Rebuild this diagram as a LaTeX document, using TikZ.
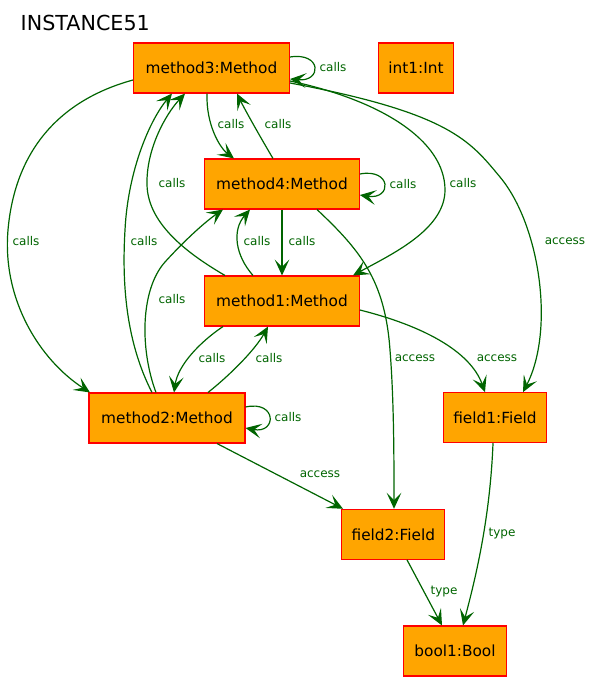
\documentclass[tikz,border=0pt]{standalone}
\usepackage{fontspec}
\setmainfont{DejaVu Sans}
\usepackage{tikz}
\usetikzlibrary{arrows.meta}
\definecolor{relgreen}{HTML}{006400}
\definecolor{objorange}{HTML}{FFA500}
\newcommand{\rellabel}[1]{\color{relgreen}{\fontsize{9}{10}\selectfont #1}}

\begin{document}
\begin{tikzpicture}[x=0.75pt,y=-0.75pt,
    obj/.style={rectangle, draw=red, fill=objorange, line width=0.8pt, inner sep=+0pt,
                minimum height=37.5pt, font=\fontsize{11.5}{13}\selectfont},
    rel/.style={draw=relgreen, line width=0.9pt, -{Stealth[length=12pt,width=11pt,inset=5.5pt]}}]
        \useasboundingbox (0,0) rectangle (599,682);

        \node[anchor=base west, font=\fontsize{15.5}{18}\selectfont] (title) at (16,30) {INSTANCE51};

        \foreach \n/\t/\x/\y/\w in {method3/Method/211.5/68/117, int1/Int/416/68/56.25,
                                     method4/Method/282/184/116, method1/Method/282/301/116,
                                     method2/Method/167/418/117, field1/Field/495/417.7/77.25,
                                     field2/Field/393.3/534.3/77.25, bool1/Bool/455/651/77.25} {
            \node[obj, minimum width=\w pt] (\n) at (\x,\y) {\n:\t};
        }

        \draw[rel] (method3.east |- 0,57) .. controls (322,52) and (322,82) .. (method3.east |- 0,79);
        \draw[rel] (method3.south -| 207,0) .. controls (206,125) and (220,148) .. (method4.north -| 234,0);
        \draw[rel] (method4.north -| 273,0) .. controls (262,140) and (245,110) .. (method3.south -| 237,0);
        \draw[rel] (method4.east |- 0,174) .. controls (392,168) and (392,200) .. (method4.east |- 0,195);
        \draw[rel] (method3.east |- 0,81) .. controls (380,100) and (445,140) .. (445,190)
                   .. controls (445,230) and (390,255) .. (method1.north -| 353,0);
        \draw[rel] (method3.west |- 0,80) .. controls (60,100) and (15,150) .. (8,230)
                   .. controls (2,300) and (40,360) .. (method2.north -| 90,0);
        \draw[rel] (method3.east |- 0,83) .. controls (450,113) and (470,141) .. (500,177)
                   .. controls (540,225) and (555,330) .. (field1.north -| 523,0);
        \draw[rel] (method2.north -| 152,0) .. controls (125,340) and (122,280) .. (125,230)
                   .. controls (128,170) and (150,120) .. (method3.south -| 172,0);
        \draw[rel] (method1.north -| 225,0) .. controls (190,255) and (148,225) .. (147,185)
                   .. controls (146,150) and (165,115) .. (method3.south -| 185,0);
        \draw[rel] (method2.north -| 156,0) .. controls (140,350) and (140,290) .. (165,262)
                   .. controls (185,240) and (205,222) .. (method4.south -| 223,0);
        \draw[rel] (method1.north -| 253,0) .. controls (235,255) and (232,230) .. (method4.south -| 250,0);
        \draw[rel] (method4.south) -- (method1.north);
        \draw[rel] (method4.south -| 317,0) .. controls (360,250) and (385,280) .. (390,350)
                   .. controls (394,400) and (394,460) .. (field2.north -| 394,0);
        \draw[rel] (method1.south -| 223,0) .. controls (200,342) and (178,365) .. (method2.north -| 174,0);
        \draw[rel] (method2.north -| 208,0) .. controls (230,375) and (255,350) .. (method1.south -| 268,0);
        \draw[rel] (method2.east |- 0,407) .. controls (277,400) and (277,434) .. (method2.east |- 0,428);
        \draw[rel] (method1.east |- 0,310) .. controls (420,325) and (470,350) .. (field1.north -| 485,0);
        \draw[rel] (method2.south -| 217,0) -- (field2.north -| 343,0);
        \draw[rel] (field1.south -| 493,0) .. controls (490,520) and (475,580) .. (bool1.north -| 463,0);
        \draw[rel] (field2.south -| 407,0) -- (bool1.north -| 442,0);

        \foreach \x/\y/\t [count=\i] in {333/67/calls, 231/124/calls, 278/124/calls, 403/184/calls,
                                         463/183/calls, 26/241/calls, 565/241/access, 144/241/calls,
                                         172/183/calls, 172/299/calls, 257/241/calls, 302/241/calls,
                                         415/358/access, 212/358/calls, 269/358/calls, 288/417/calls,
                                         497/358/access, 320/474/access, 502/534/type, 444/592/type} {
            \node (lab\i) at (\x,\y) {\rellabel{\t}};
        }
\end{tikzpicture}
\end{document}
